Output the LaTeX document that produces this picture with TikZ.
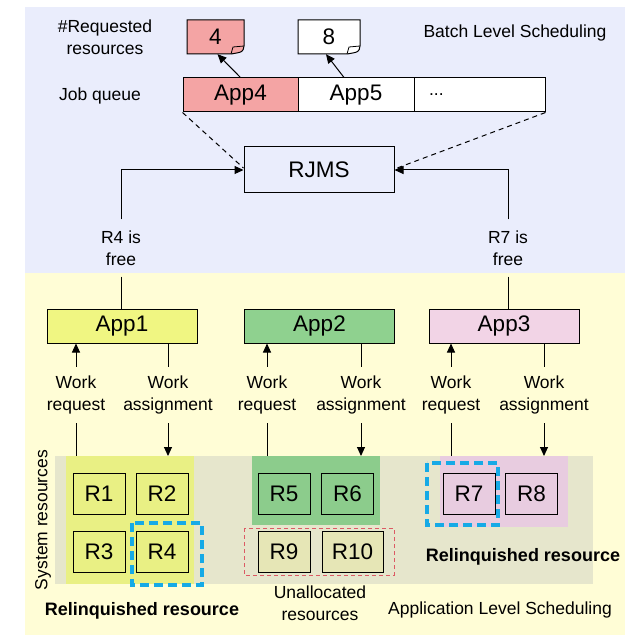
\documentclass[tikz,border=0pt]{standalone}
\usepackage{fontspec}
\setmainfont{Liberation Sans}
\usetikzlibrary{arrows.meta}

\definecolor{batchbg}{RGB}{234,237,252}
\definecolor{appbg}{RGB}{255,253,214}
\definecolor{sysgrey}{RGB}{230,230,204}
\definecolor{apponefill}{RGB}{240,246,130}
\definecolor{apponeregion}{RGB}{233,240,132}
\definecolor{apptwofill}{RGB}{143,209,143}
\definecolor{apptworegion}{RGB}{140,204,140}
\definecolor{appthreefill}{RGB}{242,212,230}
\definecolor{appthreeregion}{RGB}{232,204,224}
\definecolor{queuepink}{RGB}{244,164,164}
\definecolor{freefill}{RGB}{230,230,182}
\definecolor{relblue}{RGB}{22,170,230}
\definecolor{unalred}{RGB}{220,90,100}

\begin{document}
\begin{tikzpicture}[
    x = 1pt, y = -1pt,
    big/.style = {font = \fontsize{22.5}{25}\selectfont},
    small/.style = {font = \fontsize{17.5}{22}\selectfont, align = center},
    relbl/.style = {font = \fontsize{18}{22}\selectfont\bfseries},
    lbl/.style = {small, minimum height = 56pt, inner sep = 0pt},
    box/.style = {draw, line width = 1pt, inner sep = 0pt, big},
    res/.style = {box, minimum width = 52pt, minimum height = 41pt},
    appbox/.style = {box, minimum width = 150pt, minimum height = 34pt},
    cell/.style = {box, minimum height = 34pt},
    region/.style = {inner sep = 0pt, outer sep = 0pt},
    conn/.style = {line width = 1pt},
    arr/.style = {conn, -{Triangle[length = 9pt, width = 8pt]}},
    relinq/.style = {draw = relblue, line width = 3.5pt, dash pattern = on 9pt off 5pt},
    unalloc/.style = {draw = unalred, line width = 0.8pt, dash pattern = on 4pt off 3pt}]

\useasboundingbox (0,0) rectangle (637,636);
\fill[white] (0,0) rectangle (637,636);

% two levels
\fill[batchbg] (25,7) rectangle (625,273);
\fill[appbg] (25,273) rectangle (625,635);

% batch level
\node[small] (reqlbl) at (105,37) {\#Requested\\resources};
\node[small] (queuelbl) at (100,96) {Job queue};
\node[small] (batchlbl) at (515,33) {Batch Level Scheduling};

\filldraw[fill = queuepink, draw = black, line width = 1pt]
    (187,20) -- (244,20) -- (244,46) .. controls (243,52) .. (231,54) -- (187,54) -- cycle;
\draw[line width = 0.8pt] (231,54) -- (233,47) -- (244,46);
\filldraw[fill = white, draw = black, line width = 1pt]
    (298,20) -- (360,20) -- (360,46) .. controls (359,52) .. (347,54) -- (298,54) -- cycle;
\draw[line width = 0.8pt] (347,54) -- (349,47) -- (360,46);
\node[big, minimum width = 57pt, minimum height = 34pt, inner sep = 0pt] (doc4) at (215.5,37) {4};
\node[big, minimum width = 62pt, minimum height = 34pt, inner sep = 0pt] (doc8) at (329,37) {8};

\node[cell, fill = queuepink, minimum width = 115pt] (app4) at (240.5,95) {App4};
\node[cell, fill = white, minimum width = 116pt] (app5) at (356,95) {App5};
\node[cell, fill = white, minimum width = 131pt] (more) at (479.5,95) {};
\node[small, anchor = west] (dots) at ([xshift = 12pt]more.west) {...};

\draw[arr] (app4.north) -- ([xshift = 2pt]doc4.south);
\draw[arr] ([xshift = -12pt]app5.north) -- ([xshift = -3pt]doc8.south);

\node[box, minimum width = 150pt, minimum height = 46pt] (rjms) at (319,170) {RJMS};
\draw[conn, dash pattern = on 5pt off 4pt] (app4.south west) -- ([yshift = 2pt]rjms.west);
\draw[conn, dash pattern = on 5pt off 4pt] (more.south east) -- ([yshift = 1pt]rjms.east);

\node[small, minimum height = 57pt, inner sep = 0pt] (free4) at (121,248) {R4 is\\free};
\node[small, minimum height = 57pt, inner sep = 0pt] (free7) at (508,248) {R7 is\\free};
\draw[arr] (free4.north) |- (rjms.west);
\draw[arr] (free7.north) |- (rjms.east);

% application level
\node[appbox, fill = apponefill] (app1) at (122,326) {App1};
\node[appbox, fill = apptwofill] (app2) at (319.5,326) {App2};
\node[appbox, fill = appthreefill] (app3) at (504,326) {App3};
\draw[conn] (free4.south) -- (free4.south |- app1.north);
\draw[conn] (free7.south) -- (free7.south |- app3.north);

\node[region, fill = sysgrey, minimum width = 538pt, minimum height = 128pt] (sys) at (324,520) {};
\node[region, fill = apponeregion, minimum width = 128pt, minimum height = 128pt] (reg1) at (130,520) {};
\node[region, fill = apptworegion, minimum width = 128pt, minimum height = 69pt] (reg2) at (316,490.5) {};
\node[region, fill = appthreeregion, minimum width = 128pt, minimum height = 71pt] (reg3) at (504,491.5) {};

\node[lbl] (req1) at (76,395) {Work\\request};
\node[lbl] (asg1) at (168,395) {Work\\assignment};
\node[lbl] (req2) at (267,395) {Work\\request};
\node[lbl] (asg2) at (361,395) {Work\\assignment};
\node[lbl] (req3) at (451,395) {Work\\request};
\node[lbl] (asg3) at (544,395) {Work\\assignment};

\draw[arr] (req1.north) -- (req1.north |- app1.south);
\draw[conn] (req1.south) -- (req1.south |- reg1.north);
\draw[conn] (asg1.north |- app1.south) -- (asg1.north);
\draw[arr] (asg1.south) -- (asg1.south |- reg1.north);
\draw[arr] (req2.north) -- (req2.north |- app2.south);
\draw[conn] (req2.south) -- (req2.south |- reg2.north);
\draw[conn] (asg2.north |- app2.south) -- (asg2.north);
\draw[arr] (asg2.south) -- (asg2.south |- reg2.north);
\draw[arr] (req3.north) -- (req3.north |- app3.south);
\draw[conn] (req3.south) -- (req3.south |- reg3.north);
\draw[conn] (asg3.north |- app3.south) -- (asg3.north);
\draw[arr] (asg3.south) -- (asg3.south |- reg3.north);

% resources
\node[res, fill = apponeregion] (r1) at (99,493.5) {R1};
\node[res, fill = apponeregion] (r2) at (162,493.5) {R2};
\node[res, fill = apponeregion] (r3) at (99,551.5) {R3};
\node[res, fill = apponeregion] (r4) at (162,551.5) {R4};
\node[res, fill = apptworegion] (r5) at (284,493.5) {R5};
\node[res, fill = apptworegion] (r6) at (347.5,493.5) {R6};
\node[res, fill = freefill] (r9) at (284,552) {R9};
\node[res, fill = freefill, minimum width = 61pt] (r10) at (352.5,552) {R10};
\node[res, fill = appthreeregion] (r7) at (469,493.5) {R7};
\node[res, fill = appthreeregion] (r8) at (531.5,493.5) {R8};

\draw[relinq] (132,523) rectangle (202,585);
\draw[relinq] (427,463) rectangle (498,525);
\draw[unalloc] (244,528) rectangle (394,575);

\node[small, rotate = 90] (sysres) at (43,520) {System resources};
\node[relbl] (relq1) at (142,611) {Relinquished resource};
\node[relbl] (relq2) at (523,557) {Relinquished resource};
\node[small] (unal) at (320,603) {Unallocated\\resources};
\node[small] (appsched) at (500,610) {Application Level Scheduling};
\end{tikzpicture}
\end{document}
